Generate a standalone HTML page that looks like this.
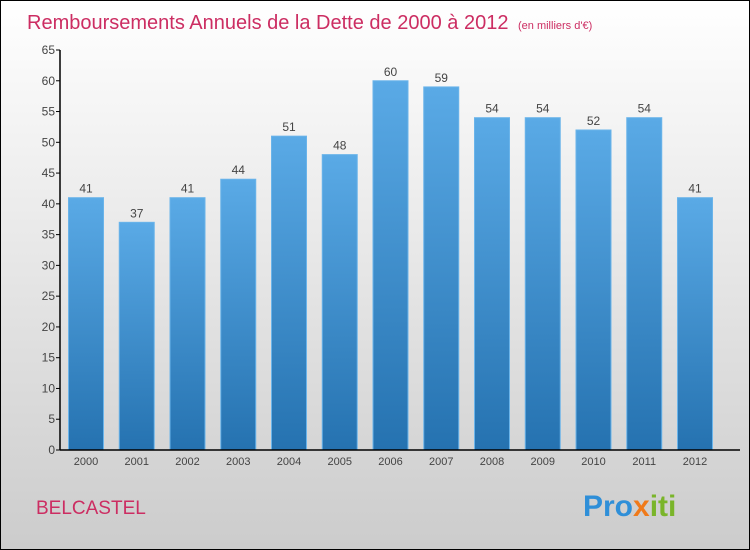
<!DOCTYPE html>
<html><head><meta charset="utf-8"><style>
body{margin:0;width:750px;height:550px;overflow:hidden}
svg{display:block;font-family:"Liberation Sans",sans-serif}
</style></head><body>
<svg id="c" width="750" height="550">
<defs>
<linearGradient id="bg" x1="0" y1="0" x2="0" y2="1"><stop offset="0" stop-color="#ffffff"/><stop offset="1" stop-color="#cccccc"/></linearGradient>
<linearGradient id="bar" x1="0" y1="0" x2="0" y2="1"><stop offset="0" stop-color="#5aaae6"/><stop offset="1" stop-color="#2572b0"/></linearGradient>
</defs>
<rect x="0.5" y="0.5" width="749" height="549" fill="url(#bg)" stroke="#000"/>
<text x="27" y="29" font-size="20" fill="#cc2d62">Remboursements Annuels de la Dette de 2000 à 2012 <tspan font-size="11" dx="4">(en milliers d'€)</tspan></text>
<text x="36" y="514" font-size="19" fill="#cc2d62">BELCASTEL</text>
<text x="583" y="516" font-size="30" font-weight="bold"><tspan fill="#2f8fd8">Pro</tspan><tspan fill="#f07a1a">x</tspan><tspan fill="#7ab52a">iti</tspan></text>
<g id="plot"></g>
</svg>
<script>
const categories=["2000","2001","2002","2003","2004","2005","2006","2007","2008","2009","2010","2011","2012"];
const values=[41,37,41,44,51,48,60,59,54,54,52,54,41];
const yTicks=[0,5,10,15,20,25,30,35,40,45,50,55,60,65];
const ns="http://www.w3.org/2000/svg";
const g=document.getElementById('plot');
const x0=60,y0=450,yTop=50,yMax=65,step=50.75,bw=35;
const y=v=>y0-(v/yMax)*(y0-yTop);
const xc=i=>86+i*step;
function mk(t,a){const e=document.createElementNS(ns,t);for(const k in a)e.setAttribute(k,a[k]);g.appendChild(e);return e;}
categories.forEach((c,i)=>{
 const r=mk('rect',{x:xc(i)-bw/2,y:y(values[i]),width:bw,height:y0-y(values[i]),fill:'url(#bar)',stroke:'#6ab4ea','stroke-width':1});
 
 
 const t=mk('text',{x:xc(i),y:y(values[i])-5,'text-anchor':'middle','font-size':12,fill:'#444'});t.textContent=values[i];
 
 
 const l=mk('text',{x:xc(i),y:y0+15,'text-anchor':'middle','font-size':11,fill:'#444'});l.textContent=c;
 
 
});
yTicks.forEach(v=>{
 mk('line',{x1:x0-4,x2:x0,y1:y(v),y2:y(v),stroke:'#000'});
 const t=mk('text',{x:x0-5,y:y(v)+4,'text-anchor':'end','font-size':12,fill:'#444'});t.textContent=v;
 
 
});
const ya=mk('line',{x1:x0,x2:x0,y1:yTop,y2:y0,stroke:'#000','stroke-width':1.5});


const xa=mk('line',{x1:x0,x2:740,y1:y0,y2:y0,stroke:'#000','stroke-width':1.5});


</script>
</body></html>
